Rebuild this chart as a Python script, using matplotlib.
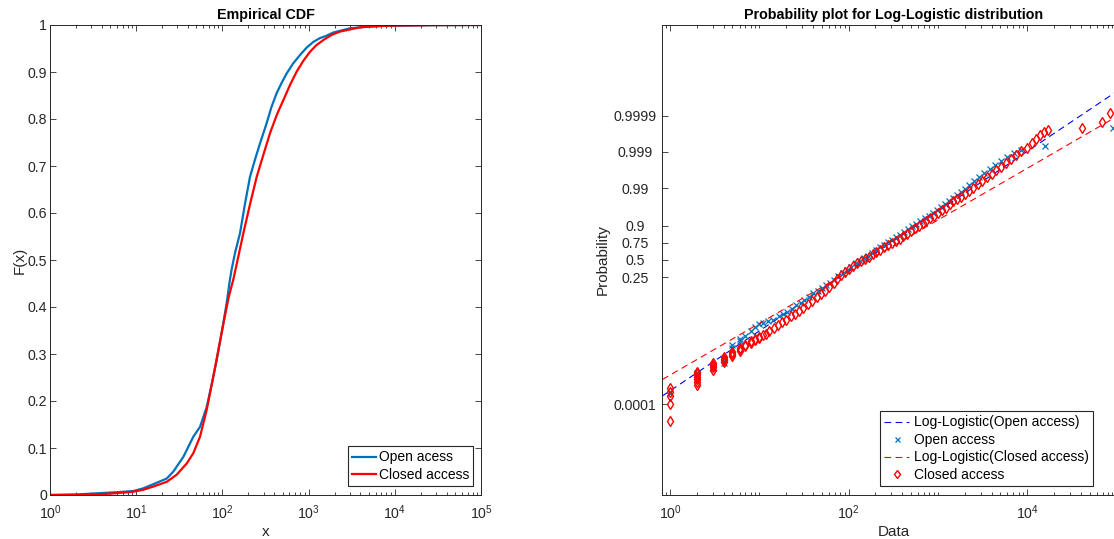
import numpy as np
import matplotlib
matplotlib.use('Agg')
import matplotlib.pyplot as plt
from matplotlib.ticker import LogLocator, NullLocator, NullFormatter

plt.rcParams['font.family'] = ['Liberation Sans', 'DejaVu Sans']

# ---- left panel: empirical CDF ----
cdf_open_x = [1, 2, 3.8, 6, 9.3, 12, 15.8, 22.6, 27, 35.2, 46, 55, 65.7, 75, 85.9, 98,
              112, 122, 128, 140, 160, 183, 209, 240, 273, 326, 370, 426, 490, 557, 660,
              794, 950, 1135, 1350, 1600, 1936, 3020, 4500, 7360, 28000, 98000]
cdf_open_F = [0, 0.001, 0.004, 0.006, 0.0085, 0.014, 0.023, 0.035, 0.05, 0.081, 0.124, 0.145,
              0.187, 0.235, 0.287, 0.345, 0.408, 0.457, 0.48, 0.515, 0.557, 0.62, 0.677, 0.715,
              0.748, 0.791, 0.825, 0.855, 0.878, 0.897, 0.918, 0.936, 0.952, 0.964, 0.972,
              0.977, 0.984, 0.993, 0.996, 0.998, 0.9995, 1.0]

cdf_closed_x = [1, 2, 3.8, 6, 9.3, 12, 15.8, 22.6, 29.4, 38.5, 46, 55, 65.7, 78.5, 90, 102.8,
                118, 134.5, 150, 175, 210, 250, 300, 357, 430, 509, 610, 728, 870, 1038, 1230,
                1483, 1850, 2312, 3944, 6500, 11500, 30000, 98000]
cdf_closed_F = [0, 0.0005, 0.0015, 0.004, 0.007, 0.011, 0.018, 0.028, 0.043, 0.067, 0.089,
                0.124, 0.181, 0.252, 0.31, 0.365, 0.42, 0.46, 0.5, 0.557, 0.62, 0.677, 0.725,
                0.77, 0.81, 0.84, 0.873, 0.901, 0.924, 0.943, 0.957, 0.968, 0.979, 0.986,
                0.995, 0.998, 0.999, 0.9998, 1.0]

# ---- right panel: probability plot points ----
open_x = [1, 2, 2, 3, 3, 4, 4, 5, 5, 6,
          6, 7, 8, 9, 10, 11, 12.5, 14.4, 16.5, 18.5,
          20.5, 23, 26, 29, 32, 36, 40, 45, 50, 56,
          62, 69, 77, 86, 96, 107, 120, 133, 148, 165,
          183, 203, 225, 250, 277, 308, 342, 380, 420, 467,
          518, 575, 638, 708, 785, 870, 965, 1070, 1190, 1320,
          1460, 1620, 1800, 2000, 2250, 2550, 2900, 3300, 3800, 4400,
          5100, 6000, 7100, 8500, 15800, 90600]
open_p = [2.12e-4, 5.53e-4, 7.47e-4, 1.007e-3, 1.23e-3, 1.36e-3, 1.83e-3, 3.69e-3, 4.50e-3, 5.49e-3,
          6.37e-3, 7.76e-3, 1.046e-2, 1.34e-2, 1.63e-2, 1.80e-2, 1.98e-2, 2.19e-2, 2.66e-2, 3.08e-2,
          3.56e-2, 4.31e-2, 5.21e-2, 6.18e-2, 7.24e-2, 8.70e-2, 0.1072, 0.1245, 0.1419, 0.168,
          0.190, 0.2227, 0.2592, 0.2994, 0.343, 0.389, 0.445, 0.4875, 0.525, 0.567,
          0.6106, 0.650, 0.690, 0.727, 0.754, 0.7825, 0.810, 0.835, 0.858, 0.8787,
          0.8957, 0.9105, 0.924, 0.934, 0.9427, 0.9526, 0.9608, 0.9677, 0.9734, 0.977,
          0.9811, 0.98449, 0.98726, 0.98954, 0.99184, 0.99363, 0.99503, 0.99612, 0.99698, 0.99765,
          0.99817, 0.99857, 0.99889, 0.999134, 0.999325, 0.999782]

closed_x = [1, 1, 1, 1, 1, 2, 2, 2, 2, 2, 2, 3, 3, 3, 3, 4, 4, 4, 4, 5, 5, 5, 6, 6, 6,
            7, 7, 8, 8, 9, 9, 10, 10,
            11, 12, 13, 14.5, 16, 18, 20, 22.5, 25, 28,
            31, 35, 39, 44, 49, 55, 61, 68, 75, 83,
            92, 102, 113, 125, 138, 152, 168, 186, 205, 227,
            250, 277, 305, 337, 372, 410, 453, 500, 552, 610,
            673, 743, 820, 905, 1000, 1105, 1220, 1350, 1490, 1645,
            1815, 2000, 2230, 2500, 2800, 3150, 3550, 4000, 4500, 5100,
            5800, 6600, 7500, 8600, 9900, 11200, 12500, 13800, 15300, 17000,
            40700, 68200, 84600]
closed_p = [3.36e-5, 1.01e-4, 1.67e-4, 2.25e-4, 2.75e-4,
            3.35e-4, 4.10e-4, 5.00e-4, 5.81e-4, 6.75e-4, 7.85e-4,
            9.11e-4, 1.06e-3, 1.23e-3, 1.36e-3,
            1.50e-3, 1.66e-3, 1.83e-3, 2.03e-3,
            2.24e-3, 2.47e-3, 2.73e-3,
            3.02e-3, 3.34e-3, 3.69e-3,
            4.08e-3, 4.50e-3, 4.97e-3, 5.49e-3, 5.94e-3, 6.37e-3, 6.83e-3, 7.39e-3,
            8.16e-3, 9.0e-3, 1.046e-2, 1.27e-2, 1.55e-2, 1.89e-2, 2.19e-2, 2.66e-2, 3.08e-2, 3.73e-2,
            4.52e-2, 5.73e-2, 6.91e-2, 8.70e-2, 0.1044, 0.1245, 0.1545, 0.190, 0.2315, 0.273,
            0.321, 0.366, 0.406, 0.445, 0.480, 0.515, 0.550, 0.587, 0.622, 0.657,
            0.690, 0.721, 0.7465, 0.772, 0.796, 0.8205, 0.843, 0.864, 0.883, 0.8985,
            0.913, 0.924, 0.934, 0.944, 0.9526, 0.960, 0.966, 0.972, 0.977, 0.9806,
            0.9829, 0.9852, 0.98787, 0.99005, 0.9920, 0.99363, 0.99503, 0.99593, 0.99673, 0.99740,
            0.99797, 0.99842, 0.99877, 0.999043, 0.999216, 0.999419, 0.999547, 0.999647, 0.999711, 0.999752,
            0.999786, 0.999849, 0.999916]

# fitted log-logistic lines (end points)
fit_open_x = [0.5, 1e6]
fit_open_p = [7.5e-5, 0.99999953]
fit_closed_x = [0.5, 1e6]
fit_closed_p = [2.39e-4, 0.99999608]

prob_ticks = [0.0001, 0.25, 0.5, 0.75, 0.9, 0.99, 0.999, 0.9999]
prob_labels = ['0.0001', '0.25', '0.5', '0.75', '0.9', '0.99', '0.999', '0.9999']

axcol = '#262626'
W, H = 1114, 539
fig = plt.figure(figsize=(W / 100, H / 100), dpi=100)
ax1 = fig.add_axes([50 / W, 44 / H, 431 / W, 470 / H])
ax2 = fig.add_axes([661.7 / W, 44 / H, 463.6 / W, 470 / H])

for ax in (ax1, ax2):
    for s in ax.spines.values():
        s.set_color(axcol)
        s.set_linewidth(0.7)
    ax.tick_params(which='both', direction='in', top=True, right=True,
                   colors=axcol, labelcolor=axcol, labelsize=10.2, width=0.6)
    ax.tick_params(which='major', length=4)
    ax.tick_params(which='minor', length=2.2)
    ax.tick_params(axis='x', pad=6)

# left: empirical CDF
ax1.plot(cdf_open_x, cdf_open_F, color='#0072BD', lw=1.6, label='Open acess')
ax1.plot(cdf_closed_x, cdf_closed_F, color='#FF0000', lw=1.6, label='Closed access')
ax1.set_xscale('log')
ax1.set_xlim(1, 1e5)
ax1.set_ylim(0, 1)
ax1.set_xticks([1, 10, 100, 1e3, 1e4, 1e5])
ax1.xaxis.set_minor_locator(LogLocator(base=10, subs=np.arange(2, 10), numticks=20))
ax1.xaxis.set_minor_formatter(NullFormatter())
yt = np.round(np.arange(0, 1.01, 0.1), 1)
ax1.set_yticks(yt, ['0'] + ['%g' % v for v in yt[1:-1]] + ['1'])
ax1.tick_params(axis='y', pad=2)
ax1.set_title('Empirical CDF', fontsize=10.3, fontweight='bold', pad=4.5)
ax1.set_xlabel('x', fontsize=11, va='center', color=axcol)
ax1.xaxis.set_label_coords(0.5, -0.078)
ax1.set_ylabel('F(x)', fontsize=11, va='center', color=axcol)
ax1.yaxis.set_label_coords(-0.07, 0.5)
leg1 = ax1.legend(loc='lower right', bbox_to_anchor=(473.3 / W, 53 / H), bbox_transform=fig.transFigure,
                  fancybox=False, edgecolor=axcol, framealpha=1, fontsize=10, handlelength=1.75,
                  handletextpad=0.2, borderpad=0.3, labelspacing=0.25, borderaxespad=0)
leg1.get_frame().set_linewidth(0.8)

# right: probability plot on log / logit axes
ax2.plot(fit_open_x, fit_open_p, color='#0000FF', lw=0.8, dashes=(6, 4),
         label='Log-Logistic(Open access)')
ax2.plot(open_x, open_p, 'x', color='#0072BD', ms=4.5, mew=0.9, label='Open access')
ax2.plot(fit_closed_x, fit_closed_p, color='#FF0000', lw=0.8, dashes=(6, 4),
         label='Log-Logistic(Closed access)')
ax2.plot(closed_x, closed_p, 'd', color='#FF0000', mfc='none', ms=5.5, mew=1.0, label='Closed access')
ax2.set_xscale('log')
ax2.set_yscale('logit')
ax2.set_xlim(0.807, 1.255e5)
ax2.set_ylim(3.06e-7, 1 - 3.06e-7)
ax2.set_xticks([1, 100, 1e4])
ax2.xaxis.set_minor_locator(LogLocator(base=10, subs=np.arange(1, 10), numticks=20))
ax2.xaxis.set_minor_formatter(NullFormatter())
ax2.set_yticks(prob_ticks, prob_labels)
ax2.yaxis.set_minor_locator(NullLocator())
ax2.tick_params(axis='y', pad=19.2)
for lab in ax2.get_yticklabels():
    lab.set_horizontalalignment('center')
ax2.set_title('Probability plot for Log-Logistic distribution', fontsize=10.3, fontweight='bold', pad=4.5)
ax2.set_xlabel('Data', fontsize=11, va='center', color=axcol)
ax2.xaxis.set_label_coords(0.5, -0.078)
ax2.set_ylabel('Probability', fontsize=11, va='center', color=axcol)
ax2.yaxis.set_label_coords(-0.127, 0.5)
leg2 = ax2.legend(loc='lower right', bbox_to_anchor=(1093.3 / W, 53 / H), bbox_transform=fig.transFigure,
                  fancybox=False, edgecolor=axcol, framealpha=1, fontsize=10, handlelength=1.75,
                  handletextpad=0.4, borderpad=0.3, labelspacing=0.25, borderaxespad=0, numpoints=1,
                  markerscale=0.8)
leg2.get_frame().set_linewidth(0.8)

fig.savefig('out.png', dpi=100)
